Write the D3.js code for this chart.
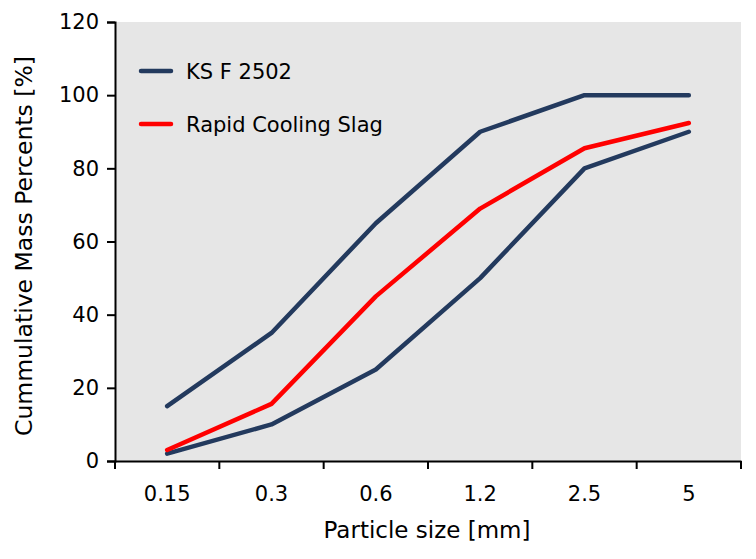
<!DOCTYPE html>
<html><head><meta charset="utf-8">
<script src="https://cdn.jsdelivr.net/npm/d3@7"></script>
<style>
body{margin:0;background:#fff;}
text{font-family:"DejaVu Sans",sans-serif;fill:#000;}
</style></head>
<body><svg id="c" width="756" height="559"></svg>
<script>
const categories = ["0.15","0.3","0.6","1.2","2.5","5"];
const ksUpper = [15,35,65,90,100,100];
const ksLower = [2,10,25,50,80,90];
const rapidSlag = [3,15.6,45,69,85.5,92.4];
const yTicks = [0,20,40,60,80,100,120];

const svg = d3.select("#c");
const m = {left:115, top:22, right:741, bottom:461};
const x = d3.scaleBand().domain(categories).range([m.left,m.right]);
const y = d3.scaleLinear().domain([0,120]).range([m.bottom,m.top]);

svg.append("rect").attr("x",m.left).attr("y",m.top)
  .attr("width",m.right-m.left).attr("height",m.bottom-m.top).attr("fill","#e6e6e6");

const yAxis = svg.append("g").attr("transform",`translate(${m.left},0)`)
  .call(d3.axisLeft(y).tickValues(yTicks).tickSize(8).tickPadding(8));
yAxis.selectAll("text").style("font-size","21px").style("font-family","DejaVu Sans").attr("fill","#000");
const xAxis = svg.append("g").attr("transform",`translate(0,${m.bottom})`)
  .call(d3.axisBottom(x).tickSize(0).tickPadding(25));
xAxis.selectAll("text").style("font-size","21px").style("font-family","DejaVu Sans").attr("fill","#000");
const bounds = categories.map(c=>x(c)).concat([x.range()[1]]);
xAxis.selectAll(".bt").data(bounds).enter().append("line")
  .attr("x1",d=>d).attr("x2",d=>d).attr("y1",0).attr("y2",8)
  .attr("stroke","#000").attr("stroke-width",2);
svg.selectAll(".domain").attr("stroke","#000").attr("stroke-width",2);
svg.selectAll(".tick line").attr("stroke","#000").attr("stroke-width",2);

const line = d3.line().x((d,i)=>x(categories[i])+x.bandwidth()/2).y(d=>y(d));
const series = [
  {v:ksUpper,c:"#233a5e"},
  {v:ksLower,c:"#233a5e"},
  {v:rapidSlag,c:"#ff0000"}
];
series.forEach(s=>{
  svg.append("path").datum(s.v).attr("d",line).attr("fill","none")
    .attr("stroke",s.c).attr("stroke-width",4.5).attr("stroke-linecap","round").attr("stroke-linejoin","round");
});

const legend = [{n:"KS F 2502",c:"#233a5e"},{n:"Rapid Cooling Slag",c:"#ff0000"}];
legend.forEach((l,i)=>{
  const yy = 71 + i*53;
  svg.append("line").attr("x1",141).attr("x2",171).attr("y1",yy).attr("y2",yy)
    .attr("stroke",l.c).attr("stroke-width",4.5).attr("stroke-linecap","round");
  svg.append("text").attr("x",186).attr("y",yy+8).style("font-size","21px").text(l.n);
});

svg.append("text").attr("x",427).attr("y",538).attr("text-anchor","middle")
  .style("font-size","23px").text("Particle size [mm]");
svg.append("text").attr("transform","translate(32,246) rotate(-90)").attr("text-anchor","middle")
  .style("font-size","23.5px").text("Cummulative Mass Percents [%]");
</script></body></html>
